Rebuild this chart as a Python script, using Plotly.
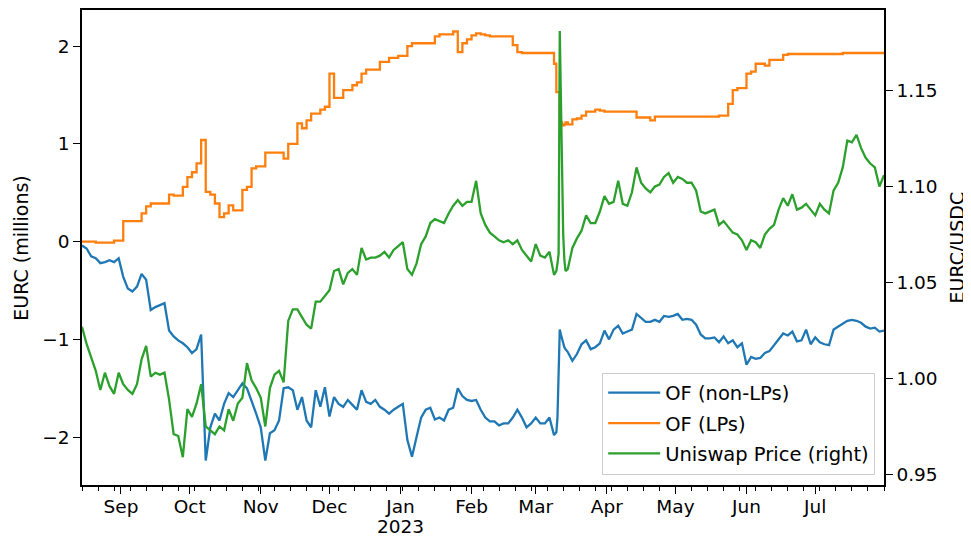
import pandas as pd
import plotly.graph_objs as go

# time axis: every 2 days, denser around the March 2023 depeg
seg1 = pd.date_range("2022-08-15", "2023-03-09", freq="2D")
seg2 = pd.date_range("2023-03-10", "2023-03-14", freq="12h")
seg3 = pd.date_range("2023-03-15", "2023-07-31", freq="2D")
dates = seg1.append(seg2).append(seg3)

# order flow of non-LPs, EURC millions
of_non_lps = [
    -0.04, -0.07, -0.15, -0.17, -0.22, -0.21, -0.19, -0.21, -0.17, -0.36,
    -0.48, -0.51, -0.46, -0.33, -0.39, -0.70, -0.67, -0.65, -0.63, -0.91,
    -0.97, -1.01, -1.04, -1.08, -1.14, -1.10, -0.95, -2.24, -1.90, -1.76,
    -1.83, -1.66, -1.55, -1.59, -1.52, -1.45,
    -1.50, -1.62, -1.76, -1.90, -2.24, -1.96, -1.93, -1.83, -1.50, -1.49,
    -1.52, -1.72, -1.59, -1.83, -1.90, -1.52, -1.69, -1.49, -1.79, -1.59,
    -1.66, -1.69, -1.62, -1.67, -1.72, -1.52, -1.64, -1.66, -1.62, -1.69,
    -1.72, -1.76, -1.72, -1.69, -1.66,
    -2.03, -2.20, -2.00, -1.80, -1.72, -1.70, -1.82, -1.80, -1.83, -1.72,
    -1.70, -1.50, -1.58, -1.62, -1.63, -1.62, -1.72, -1.80, -1.84, -1.84,
    -1.88, -1.86, -1.86, -1.80, -1.72, -1.80, -1.90, -1.86, -1.80, -1.86,
    -1.86, -1.80, -1.98,
    # Mar 10 - Mar 14 (12h)
    -1.95, -1.80, -1.40, -0.90, -0.95, -1.00, -1.05, -1.08, -1.10,
    -1.13, -1.22, -1.15, -1.05, -1.01, -1.10, -1.08, -1.04, -0.91, -1.00,
    -0.90, -0.86, -0.94, -0.92, -0.90, -0.74, -0.78, -0.82, -0.82, -0.80,
    -0.82, -0.76, -0.77, -0.76, -0.74, -0.80, -0.79, -0.80, -0.85, -0.95,
    -0.99, -0.99, -0.98, -1.03, -0.97,
    -1.04, -1.01, -1.08, -1.04, -1.26, -1.18, -1.20, -1.19, -1.14, -1.12,
    -1.06, -1.00, -0.94, -0.96, -0.92, -1.02, -1.01, -0.90, -1.05, -0.98,
    -1.03, -1.05, -1.06, -0.90, -0.87, -0.84, -0.81, -0.80, -0.81, -0.83,
    -0.87, -0.89, -0.88, -0.92, -0.91,
]

# order flow of LPs, EURC millions
of_lps = [
    0.00, 0.00, 0.00, -0.01, -0.01, -0.01, -0.01, 0.01, 0.01, 0.21,
    0.21, 0.21, 0.21, 0.29, 0.36, 0.39, 0.39, 0.39, 0.39, 0.48,
    0.47, 0.47, 0.56, 0.66, 0.71, 0.80, 1.04, 0.51, 0.48, 0.39,
    0.25, 0.29, 0.37, 0.32, 0.32, 0.53,
    0.56, 0.75, 0.77, 0.77, 0.91, 0.91, 0.91, 0.91, 0.85, 1.00,
    1.00, 1.21, 1.16, 1.24, 1.31, 1.31, 1.35, 1.38, 1.72, 1.47,
    1.47, 1.55, 1.55, 1.60, 1.63, 1.72, 1.76, 1.76, 1.76, 1.84,
    1.84, 1.88, 1.88, 1.90, 1.90,
    2.00, 2.03, 2.03, 2.03, 2.03, 2.03, 2.10, 2.12, 2.12, 2.12,
    2.15, 1.94, 2.03, 2.07, 2.11, 2.13, 2.12, 2.11, 2.10, 2.10,
    2.10, 2.10, 2.10, 2.01, 1.94, 1.93, 1.93, 1.93, 1.93, 1.93,
    1.93, 1.93, 1.82,
    # Mar 10 - Mar 14 (12h)
    1.53, 1.53, 1.53, 1.24, 1.22, 1.20, 1.19, 1.20, 1.22,
    1.20, 1.25, 1.26, 1.29, 1.33, 1.33, 1.35, 1.34, 1.33, 1.33,
    1.33, 1.33, 1.33, 1.33, 1.33, 1.27, 1.27, 1.27, 1.24, 1.28,
    1.28, 1.28, 1.28, 1.28, 1.28, 1.28, 1.28, 1.28, 1.28, 1.28,
    1.28, 1.28, 1.28, 1.29, 1.29,
    1.41, 1.55, 1.57, 1.57, 1.72, 1.74, 1.82, 1.82, 1.80, 1.86,
    1.86, 1.86, 1.91, 1.92, 1.92, 1.92, 1.92, 1.92, 1.92, 1.92,
    1.92, 1.92, 1.92, 1.92, 1.92, 1.93, 1.93, 1.93, 1.93, 1.93,
    1.93, 1.93, 1.93, 1.93, 1.93,
]

# Uniswap EURC/USDC price
uni_price = [
    1.027, 1.018, 1.011, 1.004, 0.994, 1.003, 0.996, 0.992, 1.003, 0.997,
    0.994, 0.992, 0.997, 1.010, 1.017, 1.001, 1.003, 1.002, 1.003, 0.989,
    0.971, 0.970, 0.959, 0.984, 0.980, 0.987, 0.997, 0.975, 0.973, 0.971,
    0.975, 0.973, 0.984, 0.978, 0.987, 0.990,
    1.008, 0.999, 0.995, 0.990, 0.975, 0.995, 1.002, 1.004, 0.998, 1.030,
    1.036, 1.036, 1.032, 1.028, 1.026, 1.040, 1.040, 1.043, 1.046, 1.056,
    1.057, 1.049, 1.055, 1.057, 1.054, 1.068, 1.062, 1.063, 1.063, 1.064,
    1.066, 1.063, 1.067, 1.069, 1.071,
    1.057, 1.054, 1.060, 1.070, 1.074, 1.081, 1.083, 1.082, 1.081, 1.086,
    1.090, 1.093, 1.090, 1.092, 1.092, 1.103, 1.086, 1.080, 1.076, 1.074,
    1.072, 1.071, 1.072, 1.070, 1.072, 1.067, 1.064, 1.061, 1.070, 1.064,
    1.063, 1.066, 1.054,
    # Mar 10 - Mar 14 (12h)
    1.056, 1.060, 1.065, 1.181, 1.138, 1.100, 1.075, 1.062, 1.056,
    1.057, 1.068, 1.073, 1.077, 1.085, 1.081, 1.081, 1.087, 1.095, 1.091,
    1.092, 1.103, 1.091, 1.090, 1.097, 1.110, 1.102, 1.099, 1.097, 1.100,
    1.101, 1.105, 1.107, 1.102, 1.105, 1.104, 1.102, 1.102, 1.098, 1.087,
    1.086, 1.087, 1.088, 1.080, 1.082,
    1.079, 1.076, 1.075, 1.072, 1.067, 1.072, 1.071, 1.068, 1.075, 1.078,
    1.080, 1.088, 1.094, 1.090, 1.096, 1.088, 1.089, 1.091, 1.088, 1.085,
    1.091, 1.088, 1.086, 1.098, 1.102, 1.110, 1.124, 1.123, 1.127, 1.120,
    1.115, 1.112, 1.110, 1.100, 1.106,
]

month_ticks = ["2022-09-01", "2022-10-01", "2022-11-01", "2022-12-01", "2023-01-01",
               "2023-02-01", "2023-03-01", "2023-04-01", "2023-05-01", "2023-06-01",
               "2023-07-01"]
month_labels = ["Sep", "Oct", "Nov", "Dec", "Jan", "Feb", "Mar", "Apr",
                "May", "Jun", "Jul"]

FONT = 18.5
LW = 2.3

fig = go.Figure()
fig.add_trace(go.Scatter(x=dates, y=of_non_lps, name="OF (non-LPs)", mode="lines",
                         legendgroup="a", line=dict(color="#1f77b4", width=LW)))
fig.add_trace(go.Scatter(x=dates, y=of_lps, name="OF (LPs)", mode="lines",
                         legendgroup="b", line=dict(color="#ff7f0e", width=LW, shape="hv")))
fig.add_trace(go.Scatter(x=dates, y=uni_price, name="Uniswap Price (right)", mode="lines",
                         legendgroup="c", line=dict(color="#2ca02c", width=LW), yaxis="y2"))

axis_common = dict(ticks="outside", ticklen=7, tickwidth=1.3, tickcolor="black",
                   showline=True, linecolor="black", linewidth=1.5,
                   showgrid=False, zeroline=False, automargin=False)

# the page body adds an 8px offset, so the figure is 8px smaller
fig.update_layout(
    width=963, height=533,
    margin=dict(l=74, r=87, t=2, b=56),
    paper_bgcolor="white", plot_bgcolor="white",
    font=dict(family="DejaVu Sans", size=FONT, color="black"),
    showlegend=True,
    legend=dict(x=0.989, y=0.022, xanchor="right", yanchor="bottom",
                bgcolor="rgba(255,255,255,0.8)", bordercolor="#cccccc", borderwidth=1,
                font=dict(size=19.5), tracegroupgap=2, itemwidth=52),
    xaxis=dict(type="date", range=["2022-08-15", "2023-07-31"],
               tickvals=month_ticks, ticktext=month_labels, mirror=True,
               ticklabelstandoff=-3,
               minor=dict(ticks="outside", ticklen=4, tickwidth=1, tickcolor="black",
                          dtick=7 * 24 * 3600 * 1000, tick0="2022-08-15", showgrid=False),
               **axis_common),
    yaxis=dict(range=[-2.49, 2.37], tickvals=[-2, -1, 0, 1, 2], **axis_common),
    yaxis2=dict(range=[0.9445, 1.192], tickvals=[0.95, 1.00, 1.05, 1.10, 1.15],
                tickformat=".2f", overlaying="y", side="right", **axis_common),
)

# year label under "Jan", as pandas draws it
fig.add_annotation(text="2023", xref="x", yref="paper", x="2023-01-01", y=-0.088,
                   xanchor="center", yanchor="middle", showarrow=False,
                   font=dict(size=FONT))

# axis titles placed like the matplotlib labels
fig.add_annotation(text="EURC (millions)", xref="paper", yref="paper",
                   x=-0.077, y=0.5, xanchor="center", yanchor="middle",
                   textangle=-90, showarrow=False, font=dict(size=19))
fig.add_annotation(text="EURC/USDC", xref="paper", yref="paper",
                   x=1.091, y=0.5, xanchor="center", yanchor="middle",
                   textangle=-90, showarrow=False, font=dict(size=19))

fig.write_html("out.html")
